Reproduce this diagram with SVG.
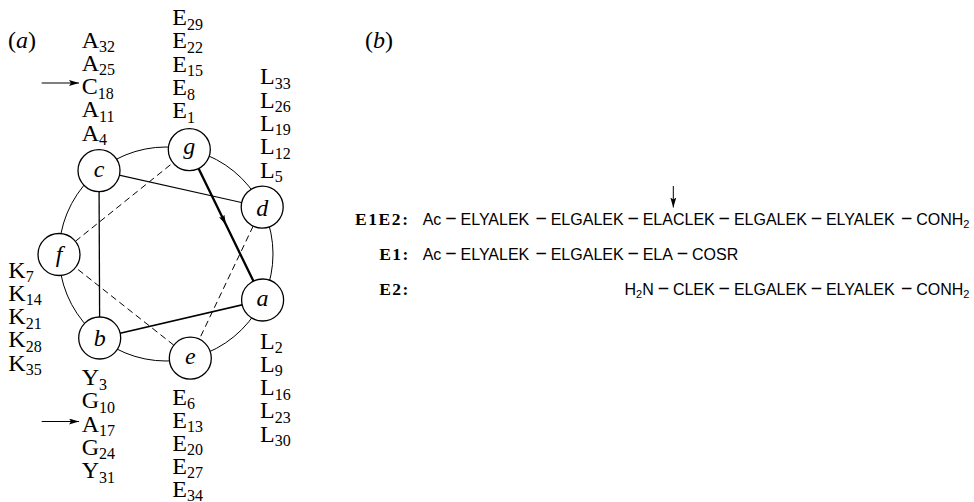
<svg xmlns="http://www.w3.org/2000/svg" width="974" height="502" viewBox="0 0 974 502">
  <defs>
    <marker id="arrowhead" viewBox="0 0 10 6" refX="10" refY="3" markerWidth="10" markerHeight="6" markerUnits="userSpaceOnUse" orient="auto">
      <path d="M0,0 L10,3 L0,6 L2,3 z" fill="#000"/>
    </marker>
  </defs>
  <style>
    .serif { font-family: "Liberation Serif", "DejaVu Serif", serif; font-size: 24px; fill: #000; }
    .sub { font-size: 16px; }
    .node circle { fill: #fff; stroke: #000; stroke-width: 1.3; }
    .node text { font-family: "Liberation Serif", "DejaVu Serif", serif; font-style: italic; font-size: 24px; text-anchor: middle; fill: #000; }
    .wheel { fill: none; stroke: #000; stroke-width: 1; }
    .link { fill: none; stroke: #000; }
    .dash { stroke-width: 1; stroke-dasharray: 6.5 4; }
    .pointer { stroke: #000; stroke-width: 1; fill: none; marker-end: url(#arrowhead); }
    .seq { font-family: "Liberation Sans", "DejaVu Sans", sans-serif; font-size: 16px; fill: #000; }
    .seq .s2 { font-size: 11px; }
    .seq .m { font-size: 19.5px; }
    .tag { font-family: "Liberation Serif", "DejaVu Serif", serif; font-weight: bold; font-size: 17.5px; fill: #000; }
  </style>

  <!-- panel labels -->
  <text class="serif" x="8" y="48">(<tspan font-style="italic">a</tspan>)</text>
  <text class="serif" x="365" y="48">(<tspan font-style="italic">b</tspan>)</text>

  <!-- helical wheel rim -->
  <circle class="wheel" cx="166" cy="254" r="107"/>

  <!-- heptad connections a-b-c-d-e-f-g-a -->
  <g id="connectors">
    <path class="link" stroke-width="2.3" d="M189.3,149.6 L226,224.8 L262.6,300" marker-mid="url(#arrowhead)"/>
    <line class="link" stroke-width="1.7" x1="262.6" y1="300" x2="99.7" y2="338"/>
    <line class="link" stroke-width="1.3" x1="99.7" y1="338" x2="99" y2="170.6"/>
    <line class="link" stroke-width="1.1" x1="99" y1="170.6" x2="262.2" y2="207.1"/>
    <line class="link dash" x1="262.2" y1="207.1" x2="190.3" y2="358.2"/>
    <line class="link dash" x1="190.3" y1="358.2" x2="59" y2="254.5"/>
    <line class="link dash" x1="59" y1="254.5" x2="189.3" y2="149.6"/>
  </g>

  <!-- heptad positions -->
  <g id="node-g" class="node"><circle cx="189.3" cy="149.6" r="21"/><text x="189.3" y="153.6">g</text></g>
  <g id="node-d" class="node"><circle cx="262.2" cy="207.1" r="21"/><text x="262.2" y="215.6">d</text></g>
  <g id="node-a" class="node"><circle cx="262.6" cy="300" r="21"/><text x="262.6" y="306">a</text></g>
  <g id="node-e" class="node"><circle cx="190.3" cy="358.2" r="21"/><text x="190.3" y="364.4">e</text></g>
  <g id="node-b" class="node"><circle cx="99.7" cy="338" r="21"/><text x="99.7" y="346.4">b</text></g>
  <g id="node-f" class="node"><circle cx="59" cy="254.5" r="21"/><text x="59" y="261.5">f</text></g>
  <g id="node-c" class="node"><circle cx="99" cy="170.6" r="21"/><text x="99" y="176.6">c</text></g>

  <!-- residue columns -->
  <g id="col-c" class="serif">
    <text x="81.7" y="47.5">A<tspan class="sub" dy="4.5">32</tspan></text>
    <text x="81.7" y="70.8">A<tspan class="sub" dy="4.5">25</tspan></text>
    <text x="81.7" y="94.1">C<tspan class="sub" dy="4.5">18</tspan></text>
    <text x="81.7" y="117.4">A<tspan class="sub" dy="4.5">11</tspan></text>
    <text x="81.7" y="140.7">A<tspan class="sub" dy="4.5">4</tspan></text>
  </g>
  <g id="col-g" class="serif">
    <text x="172.3" y="25.1">E<tspan class="sub" dy="4.5">29</tspan></text>
    <text x="172.3" y="48.4">E<tspan class="sub" dy="4.5">22</tspan></text>
    <text x="172.3" y="71.7">E<tspan class="sub" dy="4.5">15</tspan></text>
    <text x="172.3" y="95">E<tspan class="sub" dy="4.5">8</tspan></text>
    <text x="172.3" y="118.3">E<tspan class="sub" dy="4.5">1</tspan></text>
  </g>
  <g id="col-d" class="serif">
    <text x="260" y="84.3">L<tspan class="sub" dy="4.5">33</tspan></text>
    <text x="260" y="107.6">L<tspan class="sub" dy="4.5">26</tspan></text>
    <text x="260" y="130.9">L<tspan class="sub" dy="4.5">19</tspan></text>
    <text x="260" y="154.2">L<tspan class="sub" dy="4.5">12</tspan></text>
    <text x="260" y="177.5">L<tspan class="sub" dy="4.5">5</tspan></text>
  </g>
  <g id="col-f" class="serif">
    <text x="8.3" y="277.5">K<tspan class="sub" dy="4.5">7</tspan></text>
    <text x="8.3" y="300.8">K<tspan class="sub" dy="4.5">14</tspan></text>
    <text x="8.3" y="324.1">K<tspan class="sub" dy="4.5">21</tspan></text>
    <text x="8.3" y="347.4">K<tspan class="sub" dy="4.5">28</tspan></text>
    <text x="8.3" y="370.7">K<tspan class="sub" dy="4.5">35</tspan></text>
  </g>
  <g id="col-b" class="serif">
    <text x="81.7" y="385">Y<tspan class="sub" dy="4.5">3</tspan></text>
    <text x="81.7" y="408.3">G<tspan class="sub" dy="4.5">10</tspan></text>
    <text x="81.7" y="431.6">A<tspan class="sub" dy="4.5">17</tspan></text>
    <text x="81.7" y="454.9">G<tspan class="sub" dy="4.5">24</tspan></text>
    <text x="81.7" y="478.2">Y<tspan class="sub" dy="4.5">31</tspan></text>
  </g>
  <g id="col-e" class="serif">
    <text x="172.3" y="404.6">E<tspan class="sub" dy="4.5">6</tspan></text>
    <text x="172.3" y="427.7">E<tspan class="sub" dy="4.5">13</tspan></text>
    <text x="172.3" y="450.8">E<tspan class="sub" dy="4.5">20</tspan></text>
    <text x="172.3" y="473.9">E<tspan class="sub" dy="4.5">27</tspan></text>
    <text x="172.3" y="497">E<tspan class="sub" dy="3.5">34</tspan></text>
  </g>
  <g id="col-a" class="serif">
    <text x="260" y="348.5">L<tspan class="sub" dy="4.5">2</tspan></text>
    <text x="260" y="371.8">L<tspan class="sub" dy="4.5">9</tspan></text>
    <text x="260" y="395.1">L<tspan class="sub" dy="4.5">16</tspan></text>
    <text x="260" y="418.4">L<tspan class="sub" dy="4.5">23</tspan></text>
    <text x="260" y="441.7">L<tspan class="sub" dy="4.5">30</tspan></text>
  </g>

  <!-- ligation site pointers -->
  <line class="pointer" x1="41.7" y1="83" x2="79" y2="83"/>
  <line class="pointer" x1="41.7" y1="421.5" x2="79" y2="421.5"/>
  <line class="pointer" x1="673.3" y1="186" x2="673.3" y2="207.5"/>

  <!-- peptide sequences -->
  <g id="seq-e1e2">
    <text class="tag" x="355" y="225" textLength="53" lengthAdjust="spacing">E1E2:</text>
    <text class="seq" y="225"><tspan x="422.7">Ac</tspan><tspan class="m" x="445.2">−</tspan><tspan x="460.5">ELYALEK</tspan><tspan class="m" x="535.5">−</tspan><tspan x="550.7">ELGALEK</tspan><tspan class="m" x="627.5">−</tspan><tspan x="642.7">ELACLEK</tspan><tspan class="m" x="718.6">−</tspan><tspan x="733.9">ELGALEK</tspan><tspan class="m" x="810.7">−</tspan><tspan x="825.9">ELYALEK</tspan><tspan class="m" x="900.9">−</tspan><tspan x="916.2">CONH</tspan><tspan class="s2" dy="3">2</tspan></text>
  </g>
  <g id="seq-e1">
    <text class="tag" x="379.3" y="260" textLength="29" lengthAdjust="spacing">E1:</text>
    <text class="seq" y="260"><tspan x="422.7">Ac</tspan><tspan class="m" x="445.2">−</tspan><tspan x="460.5">ELYALEK</tspan><tspan class="m" x="535.5">−</tspan><tspan x="550.7">ELGALEK</tspan><tspan class="m" x="627.5">−</tspan><tspan x="642.7">ELA</tspan><tspan class="m" x="676.8">−</tspan><tspan x="692">COSR</tspan></text>
  </g>
  <g id="seq-e2">
    <text class="tag" x="379.3" y="295" textLength="29" lengthAdjust="spacing">E2:</text>
    <text class="seq" y="295"><tspan x="624.5">H</tspan><tspan class="s2" dy="3">2</tspan><tspan dy="-3">N</tspan><tspan class="m" x="657.7">−</tspan><tspan x="672.9">CLEK</tspan><tspan class="m" x="718.6">−</tspan><tspan x="733.9">ELGALEK</tspan><tspan class="m" x="810.7">−</tspan><tspan x="825.9">ELYALEK</tspan><tspan class="m" x="900.9">−</tspan><tspan x="916.2">CONH</tspan><tspan class="s2" dy="3">2</tspan></text>
  </g>
</svg>
